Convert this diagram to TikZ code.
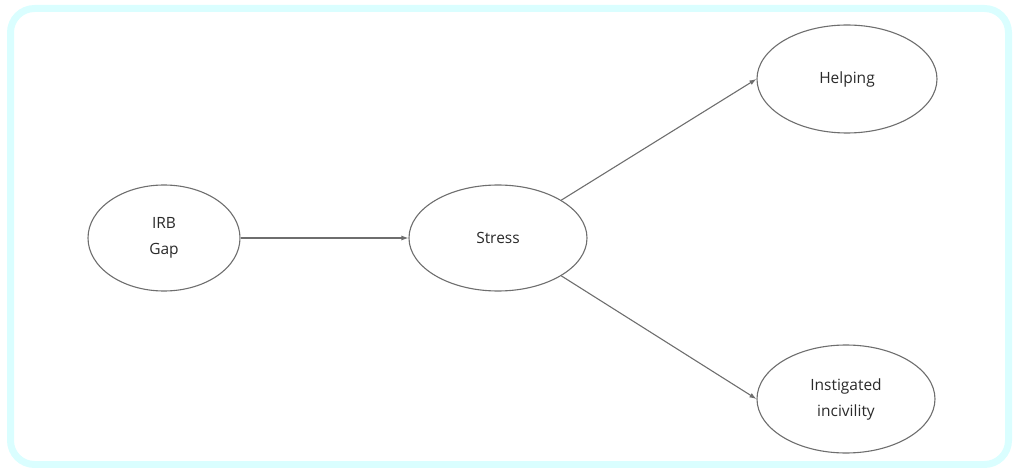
\documentclass[tikz,border=0pt]{standalone}
\usepackage{fontspec}
\setmainfont{Open Sans}
\usetikzlibrary{shapes.geometric,arrows.meta}
\definecolor{framecyan}{HTML}{DAFEFF}
\definecolor{edgegray}{HTML}{6E6E6E}
\definecolor{txtgray}{HTML}{2A2A2A}
\tikzset{
  var/.style={ellipse, draw=edgegray, line width=1.1pt, fill=white, inner sep=0pt,
    align=center, font=\fontsize{15.5}{26}\selectfont, text=txtgray},
  link/.style={draw=edgegray, line width=1.1pt, -{Latex[length=7pt,width=5pt]}}
}
\begin{document}
\begin{tikzpicture}[x=1pt,y=-1pt]
\useasboundingbox (0,0) rectangle (1013,468);
\draw[framecyan, line width=7pt, rounded corners=24pt] (10.5,8.5) rectangle (1008.5,464.5);
\node[var, minimum width=152pt, minimum height=106pt] (irb) at (164,238) {IRB\\Gap};
\node[var, minimum width=178pt, minimum height=106pt] (stress) at (498,238) {Stress};
\node[var, minimum width=180pt, minimum height=108pt] (help) at (847,79) {Helping};
\node[var, minimum width=178pt, minimum height=108pt] (inc) at (846,399) {Instigated\\incivility};
\draw[link] (irb.east) -- (stress.west);
\draw[link] (stress.north east) -- (help.west);
\draw[link] (stress.south east) -- (inc.west);
\end{tikzpicture}
\end{document}
